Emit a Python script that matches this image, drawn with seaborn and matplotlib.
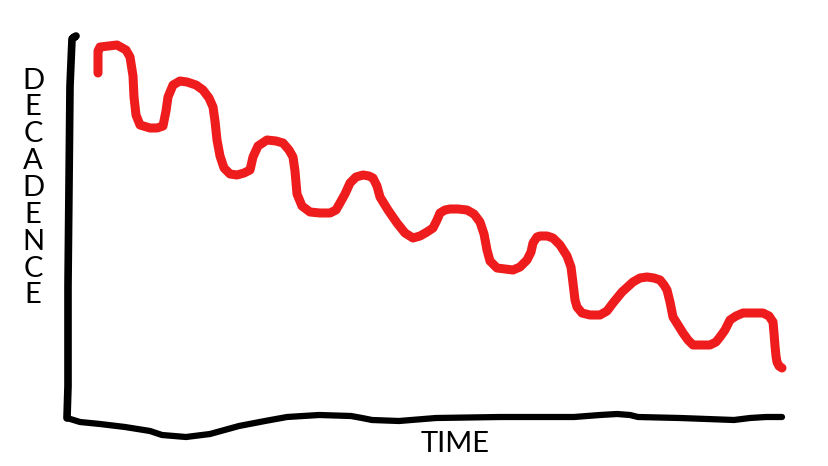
import matplotlib
matplotlib.use("Agg")
import matplotlib.pyplot as plt
import seaborn as sns
import pandas as pd

# traced values (time, decadence) of the hand drawn curve
time = [98, 98, 100, 117, 126, 130, 133, 134, 136, 140,
        150, 157, 163, 166, 168, 173, 180, 187, 196, 203,
        209, 213, 215, 217, 220, 224, 230, 237, 244, 250,
        253, 258, 267, 276, 283, 289, 293, 295, 297, 302,
        310, 320, 330, 336, 340, 345, 350, 356, 363, 369,
        373, 377, 380, 388, 397, 405, 413, 420, 427, 433,
        437, 440, 445, 450, 458, 467, 474, 480, 484, 487,
        490, 497, 505, 513, 520, 527, 531, 533, 537, 540,
        547, 553, 560, 567, 571, 573, 575, 577, 582, 590,
        600, 607, 613, 622, 633, 640, 647, 654, 660, 664,
        667, 670, 673, 678, 683, 688, 693, 700, 710, 716,
        720, 725, 730, 736, 743, 753, 763, 769, 773, 774,
        775, 776, 777, 779, 782]
decadence = [393, 415, 419, 421, 416, 409, 390, 369, 351, 341,
             338, 338, 340, 355, 369, 381, 385, 384, 381, 376,
             368, 359, 345, 326, 310, 298, 292, 291, 293, 296,
             309, 320, 326, 325, 323, 316, 309, 295, 272, 260,
             254, 253, 253, 256, 263, 272, 283, 289, 291, 290,
             288, 280, 269, 256, 243, 233, 228, 230, 234, 238,
             246, 253, 256, 257, 257, 256, 252, 244, 232, 216,
             205, 198, 197, 196, 199, 206, 214, 223, 229, 230,
             230, 228, 221, 210, 199, 183, 166, 159, 153, 151,
             151, 155, 163, 174, 184, 188, 189, 188, 186, 181,
             176, 164, 149, 141, 133, 126, 121, 121, 121, 124,
             129, 136, 146, 150, 153, 153, 153, 150, 144, 133,
             120, 110, 104, 100, 98]

# the wobbly axes
yaxis_time = [73, 76, 72, 70, 69, 68, 68, 67]
yaxis_level = [428, 430, 427, 380, 280, 180, 80, 48]
xaxis_time = [67, 80, 100, 125, 150, 162, 186, 210, 239, 265,
              287, 319, 351, 362, 372, 399, 436, 500, 574, 600,
              617, 630, 638, 680, 734, 750, 766, 782]
xaxis_level = [48, 44, 42, 39, 35, 31, 29, 32, 40, 45,
               49, 51, 50, 48, 46, 45, 48, 49, 49, 51,
               52, 51, 49, 48, 46, 48, 49, 49]

ylabel = "DECADENCE"
xlabel = "TIME"

curve = pd.DataFrame({"time": time, "decadence": decadence})
yaxis = pd.DataFrame({"time": yaxis_time, "decadence": yaxis_level})
xaxis = pd.DataFrame({"time": xaxis_time, "decadence": xaxis_level})

sns.set_style("white")
plt.rcParams['font.family'] = ['Lato', 'DejaVu Sans']

fig = plt.figure(figsize=(8.29, 4.66), dpi=100)
ax = fig.add_axes([0, 0, 1, 1])

kw = dict(sort=False, estimator=None, ax=ax, solid_capstyle="round", solid_joinstyle="round")
sns.lineplot(data=yaxis, x="time", y="decadence", color="black", lw=5.5, **kw)
sns.lineplot(data=xaxis, x="time", y="decadence", color="black", lw=4.5, **kw)
sns.lineplot(data=curve, x="time", y="decadence", color="#ee1c1c", lw=6.5, **kw)

ax.set_xlim(0, 829)
ax.set_ylim(0, 466)
ax.axis("off")

ax.text(33, 466 - 188, "\n".join(ylabel), ha="center", va="center",
        fontsize=21, linespacing=1.04, color="black")
ax.text(455, 466 - 444, xlabel, ha="center", va="center", fontsize=21, color="black")

fig.savefig("out.png", dpi=100, facecolor="white")
